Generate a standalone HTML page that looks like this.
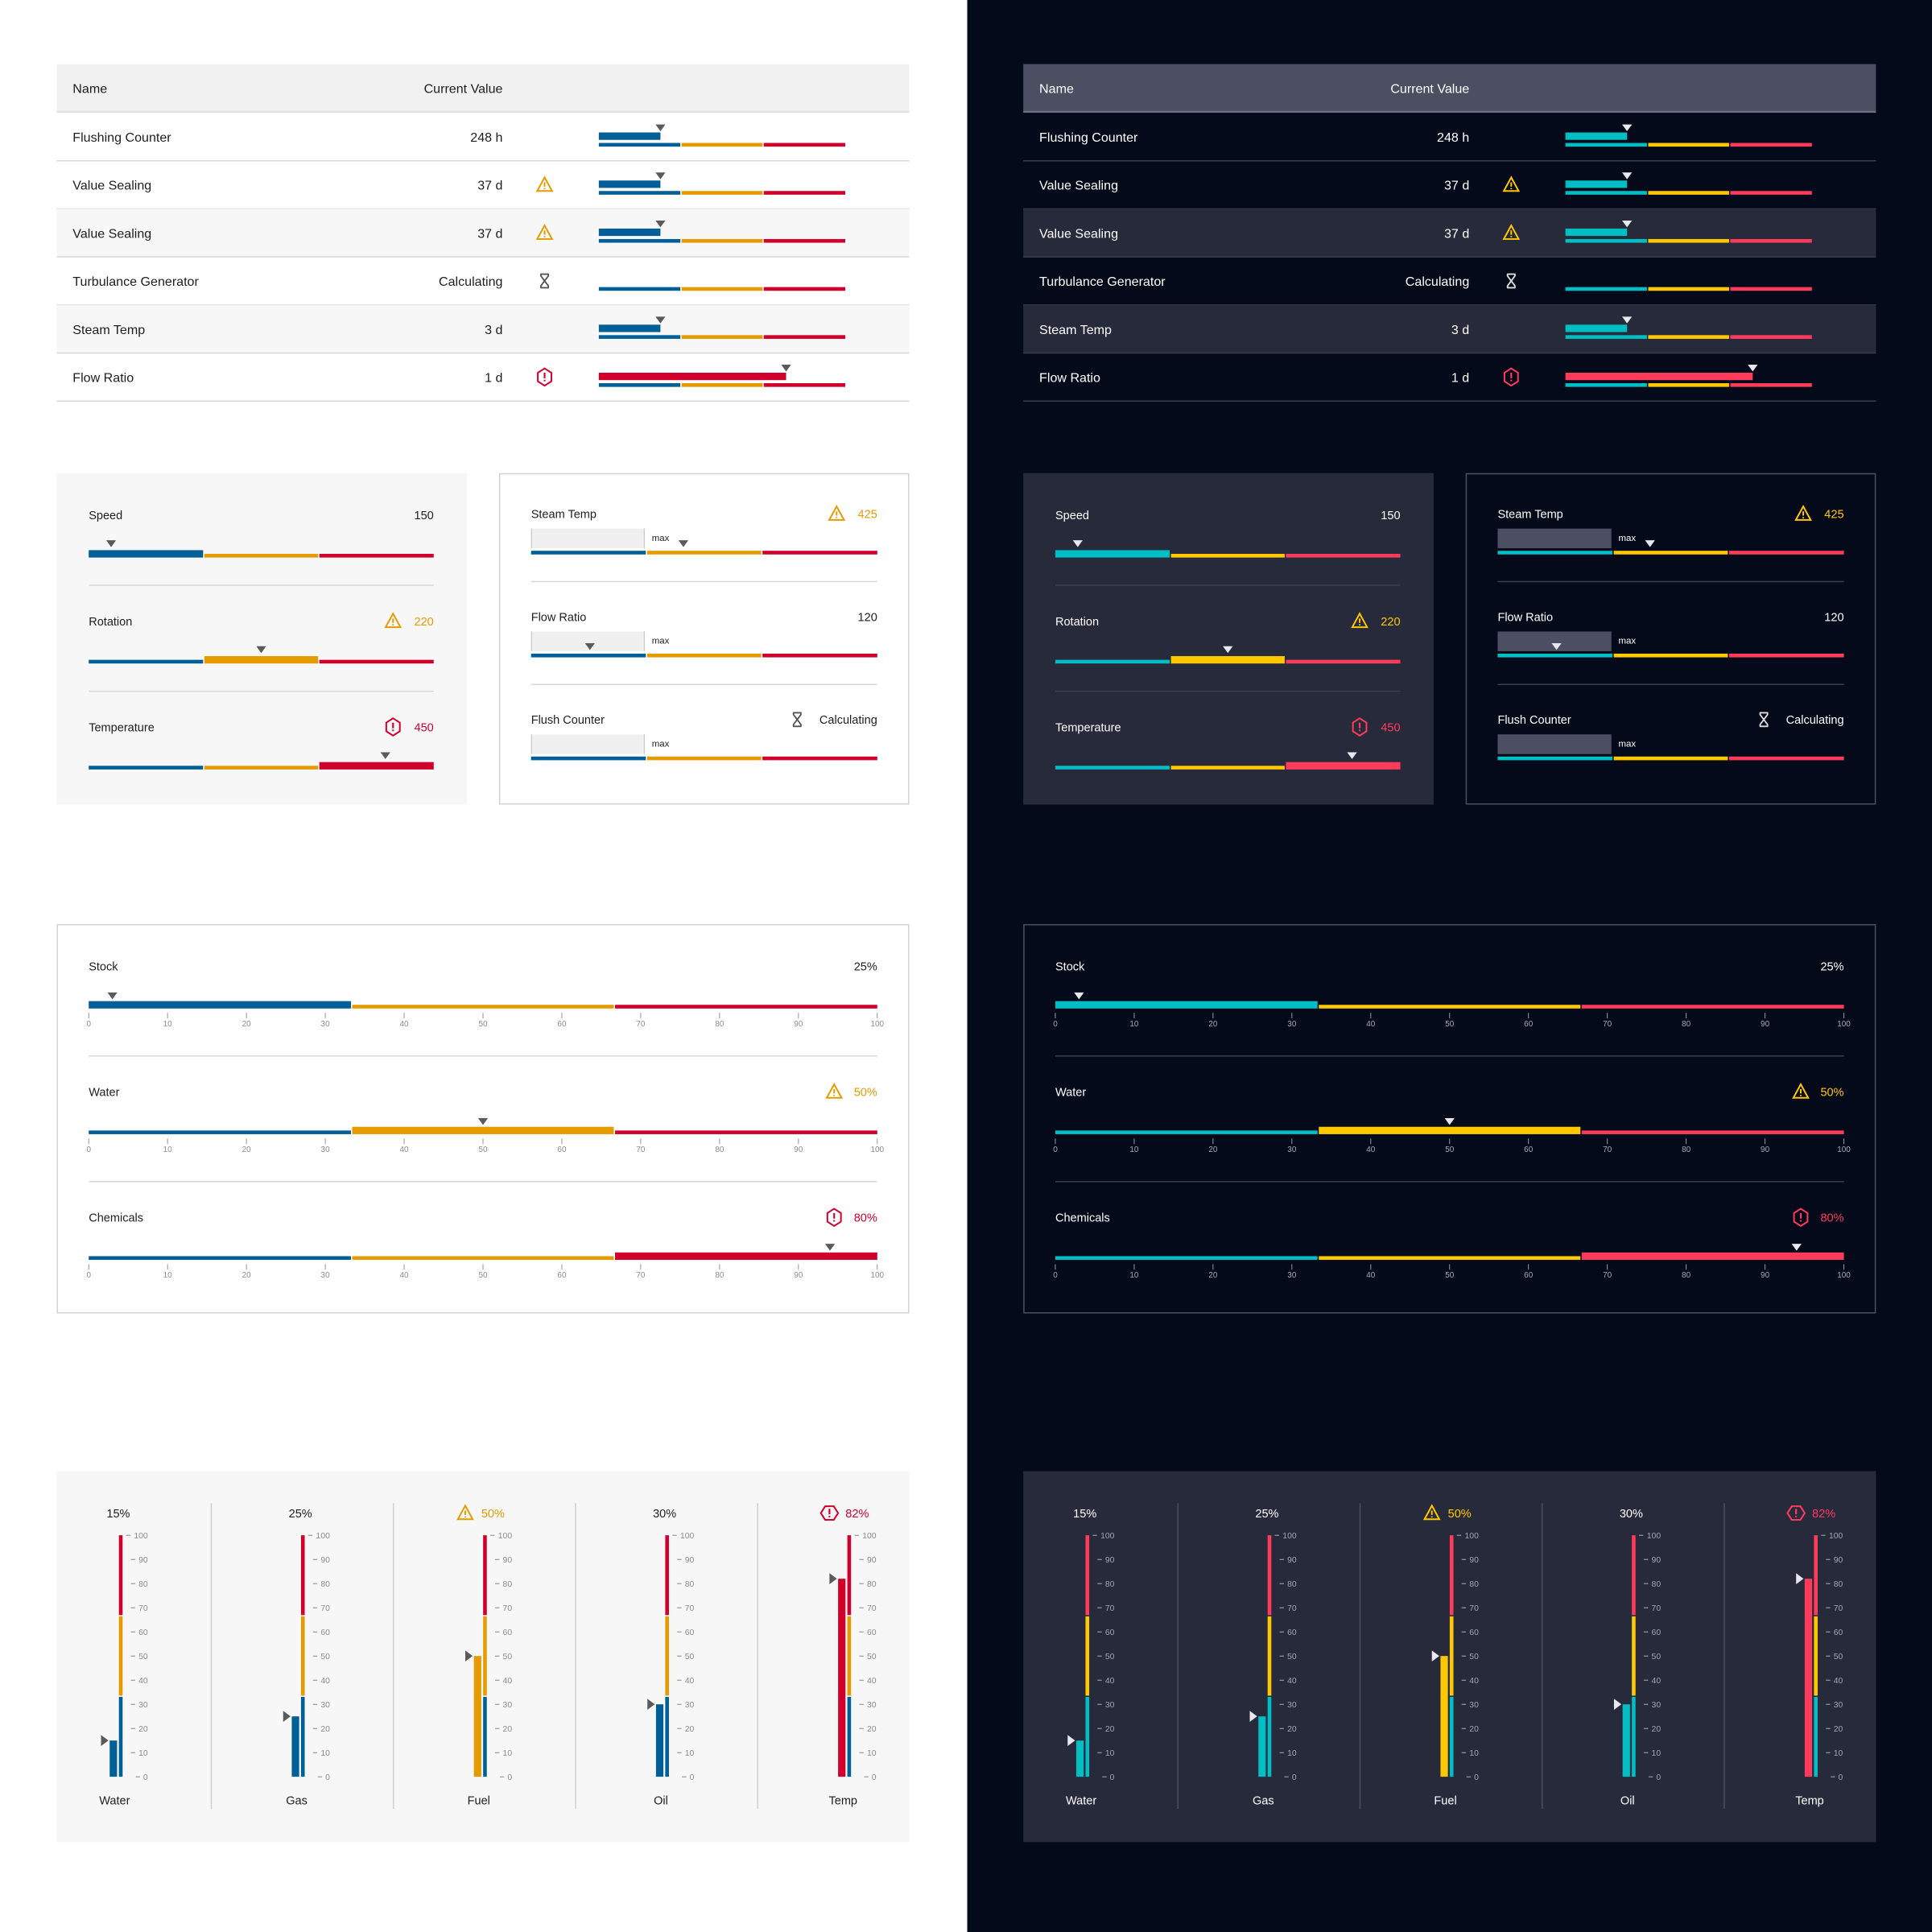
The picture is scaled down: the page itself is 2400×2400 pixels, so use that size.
<!DOCTYPE html>
<html><head><meta charset="utf-8">
<style>
html,body{margin:0;padding:0;background:#fff;}
svg{display:block;font-family:"Liberation Sans",sans-serif;}
</style></head>
<body>
<svg id="root" width="2400" height="2400" viewBox="0 0 1568 1568" xmlns="http://www.w3.org/2000/svg"></svg>
<script>
// ---- data ----
const tableNames = ["Flushing Counter","Value Sealing","Value Sealing","Turbulance Generator","Steam Temp","Flow Ratio"];
const tableValues = ["248 h","37 d","37 d","Calculating","3 d","1 d"];
const tablePercent = [25,25,25,null,25,76];
const tableStatus = ["","warn","warn","wait","","error"];

const leftCardNames = ["Speed","Rotation","Temperature"];
const leftCardValues = ["150","220","450"];
const leftCardMarker = [6.5,50,86];
const leftCardStatus = ["","warn","error"];

const rightCardNames = ["Steam Temp","Flow Ratio","Flush Counter"];
const rightCardValues = ["425","120","Calculating"];
const rightCardMarker = [44,17,null];
const rightCardStatus = ["warn","","wait"];

const hNames = ["Stock","Water","Chemicals"];
const hLabels = ["25%","50%","80%"];
const hMarker = [3,50,94];
const hStatus = ["","warn","error"];
const hTicks = [0,10,20,30,40,50,60,70,80,90,100];

const vNames = ["Water","Gas","Fuel","Oil","Temp"];
const vValues = [15,25,50,30,82];
const vStatus = ["","","warn","","error"];
const vTicks = [0,10,20,30,40,50,60,70,80,90,100];

// ---- themes ----
const LIGHT = {bg:'#ffffff',text:'#1e1e1e',sub:'#8c8c8c',c1:'#005f96',c2:'#e59b00',c3:'#d0002d',mark:'#5a5a5a',head:'#f0f1f0',stripe:'#f7f7f7',line:'#d8d8d8',panel:'#f7f7f7',border:'#d3d3d3',box:'#eff0ef',boxEdge:'#c8c8c8',icon:'#555555',card2:'#ffffff',hpanel:'#ffffff'};
const DARK = {bg:'#050a1b',text:'#ffffff',sub:'#a3a6b3',c1:'#00bec4',c2:'#ffc800',c3:'#ff3b5c',mark:'#e8e8ee',head:'#4b4f61',stripe:'#272a3b',line:'#3a3e50',panel:'#272a3b',border:'#4a4e60',box:'#4b4f61',boxEdge:'#4b4f61',icon:'#dddddd',card2:'#050a1b',hpanel:'#050a1b'};

const NS='http://www.w3.org/2000/svg';
const root=document.getElementById('root');
function mk(parent,tag,attrs,txt){const e=document.createElementNS(NS,tag);for(const k in attrs)e.setAttribute(k,attrs[k]);if(txt!==undefined)e.textContent=txt;parent.appendChild(e);return e;}

function icon(g,type,cx,cy,th,horiz){
  if(type==='warn'){
    const p=mk(g,'path',{d:`M${cx} ${cy-6} L${cx+6} ${cy+5} L${cx-6} ${cy+5} Z M${cx} ${cy-2} L${cx} ${cy+1.5} M${cx} ${cy+2.6} L${cx} ${cy+3.6}`,fill:'none',stroke:th.c2,'stroke-width':1.3,'stroke-linejoin':'miter'});
    
    
  } else if(type==='error'){
    let pts;
    if(horiz) pts=`${cx-7},${cy} ${cx-3.5},${cy-5.5} ${cx+3.5},${cy-5.5} ${cx+7},${cy} ${cx+3.5},${cy+5.5} ${cx-3.5},${cy+5.5}`;
    else pts=`${cx},${cy-7} ${cx+5.5},${cy-3.5} ${cx+5.5},${cy+3.5} ${cx},${cy+7} ${cx-5.5},${cy+3.5} ${cx-5.5},${cy-3.5}`;
    const p=mk(g,'polygon',{points:pts,fill:'none',stroke:th.c3,'stroke-width':1.3});
    
    
    mk(g,'path',{d:`M${cx} ${cy-3.5} L${cx} ${cy+1} M${cx} ${cy+2.2} L${cx} ${cy+3.4}`,stroke:th.c3,'stroke-width':1.4});
  } else if(type==='wait'){
    const p=mk(g,'path',{d:`M${cx-3} ${cy-5.5} L${cx+3} ${cy-5.5} L${cx+3} ${cy-4} L${cx-3} ${cy+4} L${cx-3} ${cy+5.5} L${cx+3} ${cy+5.5} L${cx+3} ${cy+4} L${cx-3} ${cy-4} Z`,fill:'none',stroke:th.icon,'stroke-width':1.2,'stroke-linejoin':'round'});
    
    
  }
}

// horizontal 3-zone track; thickZone: index of zone drawn thick (or -1)
function hTrack(g,x0,w,bottom,th,thin,thick,thickZone){
  const cols=[th.c1,th.c2,th.c3];
  for(let z=0;z<3;z++){
    const xa=x0+w*z/3+(z>0?0.5:0), xb=x0+w*(z+1)/3-(z<2?0.5:0);
    const h=(z===thickZone)?thick:thin;
    const r=mk(g,'rect',{x:xa,y:bottom-h,width:xb-xa,height:h,fill:cols[z]});
    
    
  }
}
function downMarker(g,x,tipY,th){
  const m=mk(g,'polygon',{points:`${x-4},${tipY-5.5} ${x+4},${tipY-5.5} ${x},${tipY}`,fill:th.mark});
  
  
}
function zoneOf(p){return p<100/3?0:(p<200/3?1:2);}
function statusColor(s,th){return s==='warn'?th.c2:(s==='error'?th.c3:th.text);}

function render(th,ox){
  const g=mk(root,'g',{transform:`translate(${ox},0)`});
  
  

  // ---------- TABLE ----------
  const tbl=mk(g,'g',{});
  
  
  mk(tbl,'rect',{x:46,y:52,width:692,height:39,fill:th.head});
  mk(tbl,'rect',{x:46,y:90,width:692,height:1.5,fill:th===LIGHT?'#e2e2e2':'#6b6f80'});
  const hn=mk(tbl,'text',{x:59,y:75.5,'font-size':10.5,fill:th.text,'font-weight':'500'},'Name');
  
  
  const hv=mk(tbl,'text',{x:408,y:75.5,'font-size':10.5,fill:th.text,'text-anchor':'end'},'Current Value');
  
  
  for(let i=0;i<tableNames.length;i++){
    const top=91.5+39*i, c=top+19.5;
    const row=mk(tbl,'g',{});
    
    
    if(i===2||i===4) mk(row,'rect',{x:46,y:top,width:692,height:39,fill:th.stripe});
    mk(row,'rect',{x:46,y:top+38.5,width:692,height:1,fill:th.line});
    mk(row,'text',{x:59,y:c+4,'font-size':10.5,fill:th.text},tableNames[i]);
    mk(row,'text',{x:408,y:c+4,'font-size':10.5,fill:th.text,'text-anchor':'end'},tableValues[i]);
    if(tableStatus[i]) icon(row,tableStatus[i],442,c,th,false);
    hTrack(row,486,200,c+8,th,3,3,-1);
    if(tablePercent[i]!==null){
      const p=tablePercent[i];
      const col=[th.c1,th.c2,th.c3][zoneOf(p)];
      const b=mk(row,'rect',{x:486,y:c-3.5,width:200*p/100,height:6,fill:col});
      
      
      downMarker(row,486+200*p/100,c-4.5,th);
    }
  }

  // ---------- LEFT CARD ----------
  const lc=mk(g,'g',{});
  
  
  mk(lc,'rect',{x:46,y:384,width:333,height:269,fill:th.panel});
  for(let i=0;i<3;i++){
    const dy=86*i;
    mk(lc,'text',{x:72,y:421.5+dy,'font-size':9.5,fill:th.text},leftCardNames[i]);
    mk(lc,'text',{x:352,y:421.5+dy,'font-size':9.5,fill:statusColor(leftCardStatus[i],th),'text-anchor':'end'},leftCardValues[i]);
    if(leftCardStatus[i]) icon(lc,leftCardStatus[i],319,418+dy,th,false);
    const p=leftCardMarker[i];
    hTrack(lc,72,280,452.5+dy,th,3,6,zoneOf(p));
    downMarker(lc,72+280*p/100,444+dy,th);
    if(i<2) mk(lc,'rect',{x:72,y:474.5+dy,width:280,height:1,fill:th.line});
  }

  // ---------- RIGHT CARD ----------
  const rc=mk(g,'g',{});
  
  
  mk(rc,'rect',{x:405.5,y:384.5,width:332,height:268,fill:th.card2,stroke:th.border,'stroke-width':1});
  for(let i=0;i<3;i++){
    const dy=83.5*i;
    mk(rc,'text',{x:431,y:420.5+dy,'font-size':9.5,fill:th.text},rightCardNames[i]);
    mk(rc,'text',{x:712,y:420.5+dy,'font-size':9.5,fill:statusColor(rightCardStatus[i],th),'text-anchor':'end'},rightCardValues[i]);
    if(rightCardStatus[i]==='warn') icon(rc,'warn',679,417+dy,th,false);
    if(rightCardStatus[i]==='wait') icon(rc,'wait',647,417+dy,th,false);
    const bx=mk(rc,'rect',{x:431,y:429+dy,width:92,height:16,fill:th.box});
    
    
    mk(rc,'rect',{x:431,y:429+dy,width:0.8,height:16,fill:th.boxEdge});
    mk(rc,'rect',{x:522.5,y:429+dy,width:0.8,height:16,fill:th.boxEdge});
    mk(rc,'text',{x:529,y:439+dy,'font-size':7.5,fill:th.text},'max');
    hTrack(rc,431,281,450+dy,th,3,3,-1);
    if(rightCardMarker[i]!==null) downMarker(rc,431+281*rightCardMarker[i]/100,444+dy,th);
    if(i<2) mk(rc,'rect',{x:431,y:471.5+dy,width:281,height:1,fill:th.line});
  }

  // ---------- HORIZONTAL SCALE PANEL ----------
  const hp=mk(g,'g',{});
  
  
  mk(hp,'rect',{x:46.5,y:750.5,width:691,height:315,fill:th.hpanel,stroke:th.border,'stroke-width':1});
  for(let i=0;i<3;i++){
    const dy=102*i;
    mk(hp,'text',{x:72,y:787.5+dy,'font-size':9.5,fill:th.text},hNames[i]);
    mk(hp,'text',{x:712,y:787.5+dy,'font-size':9.5,fill:statusColor(hStatus[i],th),'text-anchor':'end'},hLabels[i]);
    if(hStatus[i]) icon(hp,hStatus[i],677,784+dy,th,false);
    const p=hMarker[i];
    hTrack(hp,72,640,818.5+dy,th,3,6,zoneOf(p));
    downMarker(hp,72+640*p/100,811+dy,th);
    for(let k=0;k<hTicks.length;k++){
      const x=72+640*hTicks[k]/100;
      mk(hp,'rect',{x:x-0.3,y:822+dy,width:0.6,height:4.5,fill:th.sub});
      const t=mk(hp,'text',{x:x,y:833+dy,'font-size':6.5,fill:th.sub,'text-anchor':'middle'},hTicks[k]);
      
      
    }
    if(i<2) mk(hp,'rect',{x:72,y:856.5+dy,width:640,height:1,fill:th.line});
  }

  // ---------- VERTICAL GAUGES ----------
  const vp=mk(g,'g',{});
  
  
  mk(vp,'rect',{x:46,y:1194,width:692,height:301,fill:th.panel});
  const colW=147.8, yTop=1246, yBot=1442, H=yBot-yTop;
  const yOf=v=>yBot-H*v/100;
  for(let i=0;i<vNames.length;i++){
    const cx=i*colW;
    if(i>0){ mk(vp,'rect',{x:46+125-0.5+colW*(i-1)+0.5,y:1220,width:1,height:248,fill:th===LIGHT?'#d0d0d0':'#4a4e60'}); }
    const v=vValues[i];
    const st=vStatus[i];
    if(st){
      icon(vp,st,82+cx,1228,th,true);
      mk(vp,'text',{x:95+cx,y:1231.5,'font-size':9.5,fill:statusColor(st,th)},v+'%');
    } else {
      mk(vp,'text',{x:96+cx,y:1231.5,'font-size':9.5,fill:th.text,'text-anchor':'middle'},v+'%');
    }
    const cols=[th.c1,th.c2,th.c3];
    for(let z=0;z<3;z++){
      const ya=yOf((z+1)*100/3)+(z<2?0.5:0), yb=yOf(z*100/3)-(z>0?0.5:0);
      const r=mk(vp,'rect',{x:96.5+cx,y:ya,width:3,height:yb-ya,fill:cols[z]});
      
      
    }
    const bar=mk(vp,'rect',{x:89+cx,y:yOf(v),width:6,height:yBot-yOf(v),fill:cols[zoneOf(v)]});
    
    
    const m=mk(vp,'polygon',{points:`${82+cx},${yOf(v)-4.5} ${88+cx},${yOf(v)} ${82+cx},${yOf(v)+4.5}`,fill:th.mark});
    
    
    for(let k=0;k<vTicks.length;k++){
      const y=yOf(vTicks[k]);
      const s=String(vTicks[k]);
      const tw=s.length*3.9;
      mk(vp,'rect',{x:120-tw-6+cx,y:y-0.3,width:3.5,height:0.7,fill:th.sub});
      const t=mk(vp,'text',{x:120+cx,y:y+2.4,'font-size':6.8,fill:th.sub,'text-anchor':'end'},s);
      
      
    }
    const lb=mk(vp,'text',{x:93+cx,y:1464.5,'font-size':9.5,fill:th.text,'text-anchor':'middle'},vNames[i]);
    
    
  }
}

mk(root,'rect',{x:0,y:0,width:785,height:1568,fill:'#ffffff'});
mk(root,'rect',{x:785,y:0,width:783,height:1568,fill:DARK.bg});
render(LIGHT,0);
render(DARK,784.5);
</script>
</body></html>
